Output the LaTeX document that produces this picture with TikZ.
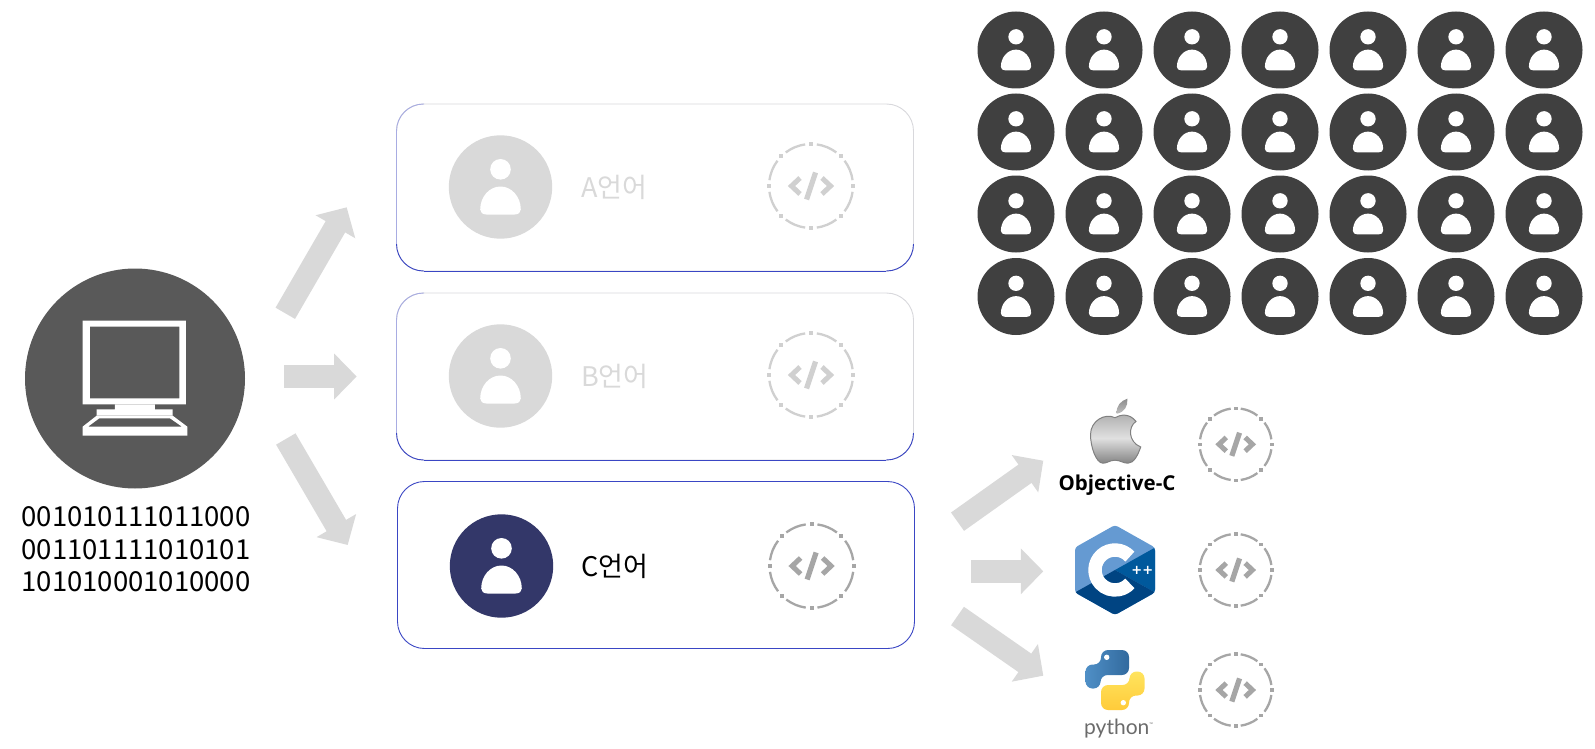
\documentclass[tikz,border=0pt]{standalone}
\usepackage{fontspec}
\setmainfont{Noto Sans CJK KR}
\newfontfamily\objfont{Open Sans}
\newfontfamily\pyfont{Lato}
\newfontfamily\plusfont{DejaVu Sans}
\usetikzlibrary{arrows.meta,shadings}
\definecolor{gridc}{HTML}{404040}
\definecolor{compc}{HTML}{595959}
\definecolor{fadec}{HTML}{D9D9D9}
\definecolor{navyc}{HTML}{333769}
\definecolor{codec}{HTML}{A6A6A6}
\definecolor{fcodec}{HTML}{D0D0D0}
\definecolor{cardc}{HTML}{3A46C4}
\definecolor{cardl}{HTML}{A8ACE2}
\definecolor{cardg}{HTML}{D8D8DC}
\definecolor{cpa}{HTML}{659AD2}
\definecolor{cpb}{HTML}{00599C}
\definecolor{cpc}{HTML}{004482}
\definecolor{pyba}{HTML}{4F8FC6}
\definecolor{pybb}{HTML}{326A9E}
\definecolor{pyya}{HTML}{FFE45E}
\definecolor{pyyb}{HTML}{FFCB3A}
\tikzset{
  cardbox/.style={draw=#1,line width=0.9pt,rounded corners=27pt,fill=white,minimum width=517pt,minimum height=167pt,inner sep=0pt,outer sep=0pt},
  cardedge/.style={draw=#1,line width=0.9pt,rounded corners=27pt},
  blockarrow/.style={draw=fadec,line width=22.5pt,-{Triangle[length=22.5pt,width=44.5pt,fill=fadec]}},
  disc/.style={circle,inner sep=0pt,draw=none,fill=#1},
  cardlabel/.style={anchor=west,inner sep=0pt,font=\fontsize{27pt}{30pt}\selectfont},
}
\newcommand{\personmark}[5]{% name x y radius colour
  \node[disc=#5,minimum size=#4*2pt] (#1) at (#2,#3) {};
  \begin{scope}[shift={(#2,#3)},scale=#4/51.7]
    \fill[white] (0,-17.7) circle [radius=10.3];
    \fill[white] (-14,27.5) .. controls (-18,27.5) and (-20.3,25.5) .. (-20.3,22.5)
      .. controls (-20.3,9.9) and (-11.2,-0.5) .. (0,-0.5)
      .. controls (11.2,-0.5) and (20.3,9.9) .. (20.3,22.5)
      .. controls (20.3,25.5) and (18,27.5) .. (14,27.5) -- cycle;
  \end{scope}}
\newcommand{\codemark}[5]{% name x y radius colour
  \coordinate (#1) at (#2,#3);
  \begin{scope}[shift={(#2,#3)},scale=#4/42]
    \foreach \a in {0,45,...,315}{
      \draw[line width=2.3pt,#5] ({42*cos(\a+8)},{42*sin(\a+8)}) arc [start angle=\a+8,end angle=\a+37,radius=42];
      \fill[#5] ({42*cos(\a)-2.1},{42*sin(\a)-2.1}) rectangle ++(4.2,4.2);
    }
    \draw[#5,line width=5pt] (-11,-8) -- (-19.5,0) -- (-11,8);
    \draw[#5,line width=5pt] (11,-8) -- (19.5,0) -- (11,8);
    \draw[#5,line width=5.2pt] (4.5,-13.5) -- (-4.5,13.5);
  \end{scope}}
\newcommand{\softcard}[3]{% name x y
  \node[cardbox=cardg] (#1) at (#2,#3) {};
  \draw[cardedge=cardl] ([xshift=-231pt]#1.north) -- (#1.north west) -- ([yshift=-27pt]#1.north west);
  \draw[cardedge=cardl] ([yshift=-27pt]#1.north west) -- ([yshift=27pt]#1.south west);
  \draw[cardedge=cardc] ([xshift=-231pt]#1.south) -- ([xshift=231pt]#1.south);
  \draw[cardedge=cardc] ([xshift=231pt]#1.south) -- (#1.south east) -- ([yshift=27pt]#1.south east);
  \draw[cardedge=cardc] ([xshift=-231pt]#1.south) -- (#1.south west) -- ([yshift=27pt]#1.south west);}
\begin{document}
\begin{tikzpicture}[x=1pt,y=-1pt]
\useasboundingbox (0,0) rectangle (1595,749);
% person grid
\foreach \r/\yy in {1/50,2/132,3/214,4/296.5}{
  \foreach \c/\xx in {1/1016,2/1104,3/1192,4/1280,5/1368,6/1456,7/1544}{
    \personmark{p\r\c}{\xx}{\yy}{38.5}{gridc}
  }
}
% computer
\node[disc=compc,minimum size=220pt] (comp) at (135,378.5) {};
\begin{scope}[shift={(0,250)},x=0.3333pt,y=-0.3333pt]
  \fill[white,even odd rule] (248,212) rectangle (558,463) (270,230) rectangle (538,445);
  \fill[white] (345,463) rectangle (465,478) (290,478) rectangle (518,497);
  \fill[white,even odd rule] (290,497) -- (248,530) -- (248,557) -- (562,557) -- (562,530) -- (518,497) -- cycle
     (298,505) -- (264,530) -- (546,530) -- (510,505) -- cycle;
\end{scope}
\node[inner sep=0pt,align=center,font=\fontsize{27.5pt}{32.6pt}\selectfont] (bits) at (136,549.5) {001010111011000\\001101111010101\\101010001010000};
% cards
\softcard{cardA}{655}{187.5}
\softcard{cardB}{655}{376.5}
\node[cardbox=cardc] (cardC) at (656,565) {};
\personmark{iA}{500.5}{187}{51.7}{fadec}
\personmark{iB}{500.5}{376}{51.7}{fadec}
\personmark{iC}{501.5}{566}{51.7}{navyc}
\node[cardlabel,text=fadec] (tA) at (581,187.5) {A언어};
\node[cardlabel,text=fadec] (tB) at (581,376.5) {B언어};
\node[cardlabel,text=black] (tC) at (581,566.5) {C언어};
\codemark{cA}{811}{186}{42}{fcodec}
\codemark{cB}{811}{375}{42}{fcodec}
\codemark{cC}{811.6}{566}{42}{codec}
% left arrows
\coordinate (a1s) at (285.3,313.3); \coordinate (a1e) at (346.7,207.3);
\coordinate (a2s) at (284,376.5); \coordinate (a2e) at (356.7,376.5);
\coordinate (a3s) at (285.8,439); \coordinate (a3e) at (347.7,545);
\draw[blockarrow] (a1s) -- (a1e);
\draw[blockarrow] (a2s) -- (a2e);
\draw[blockarrow] (a3s) -- (a3e);
% right arrows
\coordinate (b1s) at (957.5,521.7); \coordinate (b1e) at (1043.3,460.7);
\coordinate (b2s) at (971,571.3); \coordinate (b2e) at (1043.3,571.3);
\coordinate (b3s) at (957.5,616); \coordinate (b3e) at (1043.3,675.7);
\draw[blockarrow] (b1s) -- (b1e);
\draw[blockarrow] (b2s) -- (b2e);
\draw[blockarrow] (b3s) -- (b3e);
% code icons right
\codemark{c1}{1235.7}{444.3}{36}{codec}
\codemark{c2}{1235.7}{570}{36}{codec}
\codemark{c3}{1235.7}{690}{36}{codec}
% apple
\begin{scope}[shift={(1115,438.7)}]
  \shade[top color=black!32,bottom color=black!48,middle color=black!12,draw=black!50,line width=1pt]
    (0,-21) .. controls (5,-24) and (14,-26) .. (21,-17.3)
    .. controls (13,-12) and (13,3) .. (25.7,8.3)
    .. controls (23,16) and (19,24.5) .. (13,24.5)
    .. controls (8,24.5) and (5,21.5) .. (0,21.5)
    .. controls (-5,21.5) and (-8,24.5) .. (-12,24.5)
    .. controls (-19,24.5) and (-24.5,8) .. (-24.5,-4)
    .. controls (-24.5,-18) and (-10,-26) .. (0,-21) -- cycle;
  \shade[top color=black!45,bottom color=black!25]
    (1.7,-25) .. controls (1,-33) and (6,-38) .. (12.3,-40) .. controls (13.5,-33) and (9,-26) .. (1.7,-25) -- cycle;
\end{scope}
\node[inner sep=0pt,font=\objfont\bfseries\fontsize{20.5pt}{24pt}\selectfont] (objc) at (1117,485.5) {Objective-C};
% C++
\begin{scope}[shift={(1115,570)}]
  \begin{scope}
    \clip[rounded corners=3pt] (0,-45) -- (40,-22.5) -- (40,22.5) -- (0,45) -- (-40,22.5) -- (-40,-22.5) -- cycle;
    \fill[cpa] (-41,-46) rectangle (41,46);
    \fill[cpb] (0,0) -- (41,-23) -- (41,23) -- cycle;
    \fill[cpc] (0,0) -- (41,23) -- (41,46) -- (-41,46) -- (-41,23) -- cycle;
  \end{scope}
  \draw[white,line width=13.4pt] ({20*cos(42)},{-20*sin(42)}) arc [start angle=-42,end angle=-318,radius=20];
  \node[inner sep=0pt,text=white,font=\plusfont\bfseries\fontsize{13pt}{13pt}\selectfont] (plus) at (27.3,0.2) {++};
\end{scope}
% python
\begin{scope}[shift={(1115,680)}]
  \shade[left color=pyba,right color=pybb,rounded corners=7pt]
    (14,-30) -- (-14,-30) -- (-14,-15.5) -- (-29.5,-15.5) -- (-29.5,8.5) -- (-14.5,8.5) -- (-14.5,-5) -- (14,-5) -- cycle;
  \shade[top color=pyya,bottom color=pyyb,rounded corners=7pt]
    (-14,30) -- (14,30) -- (14,15.5) -- (29.5,15.5) -- (29.5,-8.5) -- (14.5,-8.5) -- (14.5,5) -- (-14,5) -- cycle;
  \fill[white] (-8.3,-22.7) circle [radius=2.7] (8.3,22.7) circle [radius=2.7];
\end{scope}
\node[inner sep=0pt,anchor=base west,text=black!58,font=\pyfont\fontsize{21pt}{24pt}\selectfont] (pytxt) at (1084,734.5) {python\raisebox{8pt}{\fontsize{5pt}{5pt}\selectfont™}};
\end{tikzpicture}
\end{document}
